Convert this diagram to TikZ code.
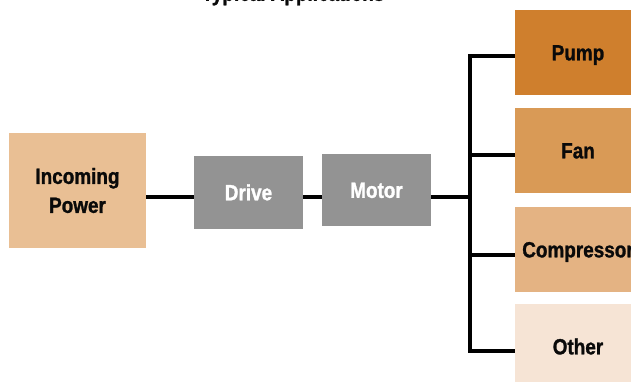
\documentclass[tikz,border=0pt]{standalone}
\usepackage{fontspec}
\newfontfamily\cond{Liberation Sans}[FakeStretch=0.86, BoldFeatures={FakeBold=1.2}]
\definecolor{cpump}{HTML}{CF7F2D}
\definecolor{cfan}{HTML}{D99A56}
\definecolor{ccomp}{HTML}{E4B383}
\definecolor{cother}{HTML}{F6E4D5}
\definecolor{cinc}{HTML}{E9BF94}
\definecolor{cgray}{HTML}{939393}
\definecolor{ctext}{HTML}{0A0A0A}
\tikzset{
  lab/.style={font={\cond\bfseries\fontsize{22}{29}\selectfont}},
  boxbase/.style={lab, rectangle, inner sep=0pt, text height=15.7pt, text depth=0pt},
  appbox/.style={boxbase, minimum width=126pt, minimum height=85pt, text=ctext},
  graybox/.style={boxbase, fill=cgray, text=white},
  wire/.style={line width=3.2pt, black},
}
\begin{document}
\begin{tikzpicture}[x=1pt,y=-1pt]
\useasboundingbox (0,0) rectangle (631,381);
\clip (0,0) rectangle (631,381);
\node[lab, anchor=base, text=ctext] (title) at (293,0.8) {Typical Applications};
\node[lab, rectangle, inner sep=0pt, fill=cinc, text=ctext, align=center,
      minimum width=137pt, minimum height=114.5pt] (inc) at (77.5,190.5) {Incoming\\Power};
\node[graybox, minimum width=108.7pt, minimum height=72.7pt] (drv) at (248.5,192.4) {Drive};
\node[graybox, minimum width=109pt, minimum height=72pt] (mot) at (376.5,190) {Motor};
\node[appbox, fill=cpump] (pump) at (578,52.5) {Pump};
\node[appbox, fill=cfan] (fan) at (578,150.5) {Fan};
\node[appbox, fill=ccomp] (comp) at (578,249.5) {Compressor};
\node[appbox, fill=cother] (other) at (578,346.5) {Other};
\coordinate (j) at (470,197);
\coordinate (b1) at (470,56);
\coordinate (b2) at (470,155);
\coordinate (b3) at (470,255);
\coordinate (b4) at (470,351);
\draw[wire] (inc.east |- j) -- (drv.west |- j);
\draw[wire] (drv.east |- j) -- (mot.west |- j);
\draw[wire] (mot.east |- j) -- (j);
\draw[wire] (pump.west |- b1) -- (b1) -- (b4) -- (other.west |- b4);
\draw[wire] (b2) -- (fan.west |- b2);
\draw[wire] (b3) -- (comp.west |- b3);
\end{tikzpicture}
\end{document}
